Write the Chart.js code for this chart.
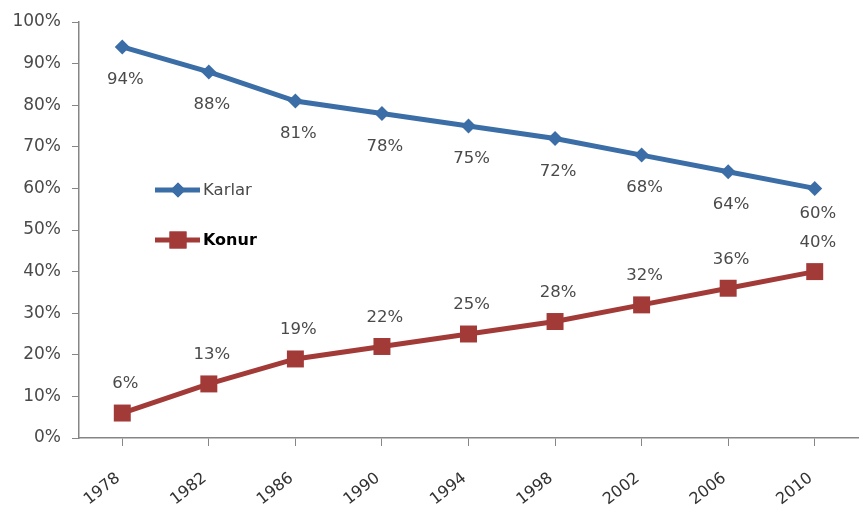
<!DOCTYPE html>
<html>
<head>
<meta charset="utf-8">
<script src="https://cdn.jsdelivr.net/npm/chart.js@4.4.0/dist/chart.umd.min.js"></script>
<style>
html,body{margin:0;padding:0;background:#fff;}
#wrap{width:859px;height:506px;position:relative;}
</style>
</head>
<body>
<div id="wrap"><canvas id="c" width="859" height="506"></canvas></div>
<script>
const categories = ['1978','1982','1986','1990','1994','1998','2002','2006','2010'];
const karlar = [94, 88, 81, 78, 75, 72, 68, 64, 60];
const konur = [6, 13, 19, 22, 25, 28, 32, 36, 40];
const seriesNames = ['Karlar', 'Konur'];
const yTickValues = [0,10,20,30,40,50,60,70,80,90,100];

const BLUE = '#3b6ea6';
const RED = '#a23a38';
const FONT = '"DejaVu Sans", Verdana, sans-serif';

const labelPlugin = {
  id: 'labels',
  afterDatasetsDraw(chart) {
    const ctx = chart.ctx;
    ctx.save();
    ctx.font = '16.5px ' + FONT;
    ctx.fillStyle = '#4a4a4a';
    ctx.textAlign = 'center';
    ctx.textBaseline = 'middle';
    chart.data.datasets.forEach((ds, di) => {
      const meta = chart.getDatasetMeta(di);
      const n = meta.data.length;
      meta.data.forEach((pt, i) => {
        let off = di === 0 ? 33 : -29;
        if (di === 0 && i === n - 1) off = 25;
        ctx.fillText(ds.data[i] + '%', pt.x + 3, pt.y + off);
      });
    });
    // legend
    const items = [
      {y: 190, color: BLUE, style: 'rectRot', r: 7.5, text: seriesNames[0], font: '16.5px ' + FONT, tc: '#4a4a4a'},
      {y: 240, color: RED, style: 'rect', r: 12, text: seriesNames[1], font: 'bold 16px ' + FONT, tc: '#000'}
    ];
    items.forEach(it => {
      ctx.strokeStyle = it.color;
      ctx.lineWidth = 5;
      ctx.beginPath();
      ctx.moveTo(155, it.y);
      ctx.lineTo(200, it.y);
      ctx.stroke();
      ctx.fillStyle = it.color;
      Chart.helpers.drawPoint(ctx, {pointStyle: it.style, radius: it.r, borderWidth: 0}, 178, it.y);
      ctx.fill();
      ctx.fillStyle = it.tc;
      ctx.font = it.font;
      ctx.textAlign = 'left';
      ctx.fillText(it.text, 203, it.y + 1);
    });
    ctx.restore();
  }
};

new Chart(document.getElementById('c'), {
  type: 'line',
  data: {
    labels: categories,
    datasets: [
      {label: seriesNames[0], data: karlar, borderColor: BLUE, backgroundColor: BLUE, borderWidth: 5,
       pointStyle: 'rectRot', pointRadius: 7.5, pointHoverRadius: 7.5, pointBorderWidth: 0, tension: 0},
      {label: seriesNames[1], data: konur, borderColor: RED, backgroundColor: RED, borderWidth: 5,
       pointStyle: 'rect', pointRadius: 12, pointHoverRadius: 12, pointBorderWidth: 0, tension: 0}
    ]
  },
  options: {
    responsive: false,
    animation: false,
    layout: {autoPadding: false, padding: {top: 22, right: 1, left: 0, bottom: 0}},
    plugins: {legend: {display: false}, tooltip: {enabled: false}},
    scales: {
      x: {
        offset: true,
        grid: {display: true, drawOnChartArea: false, tickLength: 8, color: '#868686', offset: false},
        border: {color: '#868686', width: 1.5},
        ticks: {color: '#333', font: {family: FONT, size: 16}, minRotation: 38, maxRotation: 38, padding: 23, labelOffset: -4},
        afterFit(s) { s.height = 68; s.paddingRight = 0; s.paddingLeft = 0; }
      },
      y: {
        min: 0, max: 100,
        afterBuildTicks(s) { s.ticks = yTickValues.map(v => ({value: v})); },
        grid: {display: true, drawOnChartArea: false, tickLength: 7, color: '#868686'},
        border: {color: '#868686', width: 1.5},
        ticks: {color: '#4a4a4a', font: {family: FONT, size: 17}, padding: 11, callback: v => v + '%'},
        afterFit(s) { s.width = 79; }
      }
    }
  },
  plugins: [labelPlugin]
});
</script>
</body>
</html>
